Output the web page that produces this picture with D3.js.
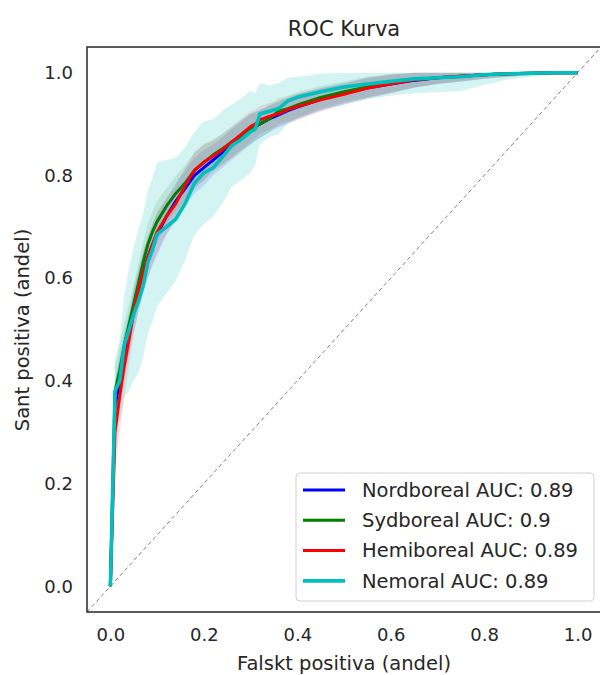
<!DOCTYPE html>
<meta charset="utf-8">
<script src="https://d3js.org/d3.v7.min.js"></script>
<style>
  body { margin: 0; background: #fff; }
  text { font-family: "DejaVu Sans", sans-serif; fill: #262626; }
</style>
<div id="chart"></div>
<script>
// falskt positiva (gemensamt rutnät)
var fpr = [0, 0.01, 0.02, 0.03, 0.04, 0.05, 0.06, 0.07, 0.08, 0.09, 0.10, 0.12, 0.14, 0.16, 0.18, 0.20,
           0.22, 0.24, 0.26, 0.28, 0.30, 0.31, 0.32, 0.34, 0.36, 0.38, 0.40, 0.45, 0.50, 0.55, 0.60,
           0.65, 0.70, 0.75, 0.80, 0.85, 0.90, 0.95, 1.0];

// medel-TPR per region
var tprNord = [0, 0.35, 0.40, 0.45, 0.49, 0.535, 0.575, 0.61, 0.64, 0.665, 0.685, 0.72, 0.75, 0.775, 0.80, 0.815,
               0.83, 0.845, 0.86, 0.875, 0.89, 0.895, 0.90, 0.91, 0.918, 0.926, 0.933, 0.948, 0.96, 0.97, 0.978,
               0.985, 0.99, 0.993, 0.996, 0.998, 0.999, 1.0, 1.0];
var tprSyd  = [0, 0.38, 0.42, 0.47, 0.51, 0.55, 0.59, 0.63, 0.665, 0.69, 0.71, 0.74, 0.765, 0.785, 0.81, 0.825,
               0.84, 0.852, 0.865, 0.878, 0.89, 0.895, 0.90, 0.91, 0.925, 0.93, 0.937, 0.952, 0.963, 0.972, 0.98,
               0.986, 0.99, 0.993, 0.996, 0.998, 0.999, 1.0, 1.0];
var tprHemi = [0, 0.30, 0.37, 0.43, 0.48, 0.535, 0.575, 0.61, 0.64, 0.665, 0.69, 0.72, 0.745, 0.78, 0.81, 0.826,
               0.838, 0.85, 0.865, 0.88, 0.895, 0.90, 0.908, 0.915, 0.92, 0.928, 0.934, 0.947, 0.958, 0.97, 0.978,
               0.986, 0.99, 0.993, 0.996, 0.998, 0.999, 1.0, 1.0];
var tprNemo = [0, 0.38, 0.40, 0.47, 0.50, 0.53, 0.555, 0.585, 0.63, 0.655, 0.685, 0.70, 0.715, 0.745, 0.785, 0.805,
               0.815, 0.836, 0.858, 0.87, 0.885, 0.89, 0.92, 0.925, 0.93, 0.945, 0.952, 0.963, 0.972, 0.978, 0.983,
               0.988, 0.99, 0.992, 0.996, 0.998, 0.999, 1.0, 1.0];

// standardavvikelse per region
var stdNord = [0, 0.05, 0.05, 0.045, 0.04, 0.04, 0.04, 0.04, 0.04, 0.04, 0.04, 0.035, 0.035, 0.035, 0.035, 0.035,
               0.03, 0.03, 0.03, 0.03, 0.03, 0.028, 0.027, 0.026, 0.025, 0.025, 0.025, 0.022, 0.02, 0.02, 0.018,
               0.015, 0.012, 0.01, 0.008, 0.006, 0.004, 0.002, 0];
var stdSyd  = [0, 0.05, 0.05, 0.045, 0.04, 0.04, 0.04, 0.04, 0.04, 0.04, 0.04, 0.035, 0.035, 0.035, 0.035, 0.035,
               0.03, 0.03, 0.03, 0.03, 0.03, 0.028, 0.027, 0.026, 0.025, 0.025, 0.025, 0.022, 0.02, 0.02, 0.018,
               0.015, 0.012, 0.01, 0.008, 0.006, 0.004, 0.002, 0];
var stdHemi = [0, 0.08, 0.07, 0.06, 0.05, 0.045, 0.04, 0.04, 0.04, 0.04, 0.04, 0.035, 0.035, 0.035, 0.035, 0.035,
               0.03, 0.03, 0.03, 0.03, 0.03, 0.028, 0.027, 0.026, 0.025, 0.025, 0.025, 0.022, 0.02, 0.02, 0.018,
               0.015, 0.012, 0.01, 0.008, 0.006, 0.004, 0.002, 0];
var stdNemo = [0, 0.06, 0.08, 0.10, 0.12, 0.13, 0.14, 0.14, 0.14, 0.14, 0.14, 0.13, 0.12, 0.11, 0.10, 0.10,
               0.095, 0.09, 0.08, 0.08, 0.08, 0.07, 0.06, 0.05, 0.05, 0.045, 0.04, 0.035, 0.035, 0.03, 0.028,
               0.028, 0.028, 0.028, 0.02, 0.012, 0.007, 0.004, 0];

var names  = ["Nordboreal", "Sydboreal", "Hemiboreal", "Nemoral"];
var aucs   = ["0.89", "0.9", "0.89", "0.89"];
var colors = ["#0000ff", "#008000", "#ff0000", "#00bfbf"];
var means  = [tprNord, tprSyd, tprHemi, tprNemo];
var stds   = [stdNord, stdSyd, stdHemi, stdNemo];
var ticks  = [0, 0.2, 0.4, 0.6, 0.8, 1.0];

var W = 600, H = 675;
var margin = {top: 47, right: -1, bottom: 63, left: 87};
var width = W - margin.left - margin.right,
    height = H - margin.top - margin.bottom;

var svg = d3.select("#chart").append("svg")
    .attr("width", W).attr("height", H);
var g = svg.append("g")
    .attr("transform", "translate(" + margin.left + "," + margin.top + ")");

var x = d3.scaleLinear().domain([-0.05, 1.05]).range([0, width]);
var y = d3.scaleLinear().domain([-0.05, 1.05]).range([height, 0]);

g.append("clipPath").attr("id", "clip")
  .append("rect").attr("width", width).attr("height", height);
var plot = g.append("g").attr("clip-path", "url(#clip)");

// diagonal
plot.append("line")
    .attr("x1", x(-0.05)).attr("y1", y(-0.05))
    .attr("x2", x(1.05)).attr("y2", y(1.05))
    .attr("stroke", "#808080").attr("stroke-width", 1)
    .attr("stroke-dasharray", "4,3");

// band
var area = d3.area()
    .x(function(d) { return x(d.f); })
    .y0(function(d) { return y(Math.max(d.m - d.s, 0)); })
    .y1(function(d) { return y(Math.min(d.m + d.s, 1)); });
var line = d3.line()
    .x(function(d) { return x(d.f); })
    .y(function(d) { return y(d.m); });

var series = means.map(function(m, i) {
  return fpr.map(function(f, j) { return {f: f, m: m[j], s: stds[i][j]}; });
});

series.forEach(function(s, i) {
  plot.append("path").datum(s)
    .attr("d", area)
    .attr("fill", colors[i])
    .attr("fill-opacity", i == 3 ? 0.17 : 0.12)
    .attr("stroke", "none");
});
series.forEach(function(s, i) {
  plot.append("path").datum(s)
    .attr("d", line)
    .attr("fill", "none")
    .attr("stroke", colors[i])
    .attr("stroke-width", i == 3 ? 3.6 : 3)
    .attr("stroke-linejoin", "round");
});

// frame
g.append("rect").attr("width", width).attr("height", height)
  .attr("fill", "none").attr("stroke", "#333").attr("stroke-width", 1.6);

// axes
var xAxis = g.append("g")
  .attr("transform", "translate(0," + height + ")")
  .call(d3.axisBottom(x).tickValues(ticks).tickFormat(d3.format(".1f")).tickSize(0).tickPadding(16));
var yAxis = g.append("g")
  .call(d3.axisLeft(y).tickValues(ticks).tickFormat(d3.format(".1f")).tickSize(0).tickPadding(14));
[xAxis, yAxis].forEach(function(a) {
  a.select(".domain").remove();
  a.selectAll("text").style("font-size", "18px").style("font-family", "DejaVu Sans").attr("fill", "#262626");
});

svg.append("text").attr("x", 344).attr("y", 36).attr("text-anchor", "middle")
  .style("font-size", "21px").text("ROC Kurva");
svg.append("text").attr("x", 344).attr("y", 670).attr("text-anchor", "middle")
  .style("font-size", "19.5px").text("Falskt positiva (andel)");
svg.append("text").attr("transform", "translate(29,330)rotate(-90)").attr("text-anchor", "middle")
  .style("font-size", "19.5px").text("Sant positiva (andel)");

// legend
var leg = g.append("g").attr("transform", "translate(" + (296 - margin.left) + "," + (473 - margin.top) + ")");
leg.append("rect").attr("width", 298).attr("height", 128).attr("rx", 4)
  .attr("fill", "#fff").attr("fill-opacity", 0.85).attr("stroke", "#d0d0d0").attr("stroke-width", 1);
names.forEach(function(n, i) {
  var yy = 17 + i * 30.3;
  leg.append("line").attr("x1", 7).attr("x2", 49).attr("y1", yy).attr("y2", yy)
    .attr("stroke", colors[i]).attr("stroke-width", i == 3 ? 3.6 : 3);
  leg.append("text").attr("x", 66).attr("y", yy).attr("dy", "0.35em")
    .style("font-size", "19.5px").text(n + " AUC: " + aucs[i]);
});
</script>
